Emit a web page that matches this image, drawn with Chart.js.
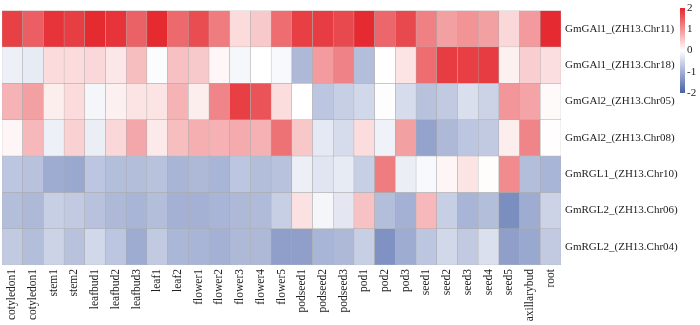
<!DOCTYPE html>
<html>
<head>
<meta charset="utf-8">
<script src="https://cdn.jsdelivr.net/npm/chart.js@4/dist/chart.umd.min.js"></script>
<style>
  html, body { margin: 0; padding: 0; background: #ffffff; }
  #wrap { width: 700px; height: 325px; }
</style>
</head>
<body>
<div id="wrap"><canvas id="c" width="700" height="325"></canvas></div>
<script>
const columns = ["cotyledon1","cotyledon1","stem1","stem2","leafbud1","leafbud2","leafbud3","leaf1","leaf2","flower1","flower2","flower3","flower4","flower5","podseed1","podseed2","podseed3","pod1","pod2","pod3","seed1","seed2","seed3","seed4","seed5","axillarybud","root"];

const rowNames = ["GmGAl1_(ZH13.Chr11)","GmGAl1_(ZH13.Chr18)","GmGAl2_(ZH13.Chr05)","GmGAl2_(ZH13.Chr08)","GmRGL1_(ZH13.Chr10)","GmRGL2_(ZH13.Chr06)","GmRGL2_(ZH13.Chr04)"];

const gai1Chr11 = [1.75,1.48,1.87,1.78,1.96,1.87,1.45,1.96,1.38,1.65,1.2,0.33,0.5,1.35,1.77,1.8,1.68,1.95,1.4,1.68,1.16,0.88,1.0,0.88,0.37,0.93,1.95];
const gai1Chr18 = [-0.19,-0.26,0.33,0.33,0.36,0.22,0.6,-0.04,0.58,0.5,0.08,-0.1,0.0,-0.08,-0.89,0.92,1.15,-0.83,0.0,0.25,1.35,1.8,1.77,1.8,0.14,0.45,0.3];
const gai2Chr05 = [0.7,0.88,0.16,0.33,-0.11,0.14,0.25,0.25,0.7,0.16,1.12,1.77,1.58,0.31,0.0,-0.72,-0.61,-0.5,-0.02,-0.44,-0.78,-0.67,-0.41,-0.56,0.97,0.84,0.05];
const gai2Chr08 = [0.09,0.65,-0.19,0.42,-0.22,0.37,0.81,0.19,0.6,0.74,0.72,0.77,0.72,1.3,0.51,-0.28,-0.44,0.31,-0.17,0.88,-1.17,-0.89,-0.72,-0.67,0.16,1.12,0.02];
const rgl1Chr10 = [-0.72,-0.78,-1.06,-1.11,-0.72,-0.83,-0.83,-0.78,-0.94,-0.89,-0.94,-0.72,-0.83,-0.78,-0.2,-0.33,-0.26,-0.61,1.21,-0.22,-0.08,0.09,0.25,0.03,1.07,-0.83,-0.94];
const rgl2Chr06 = [-0.83,-0.89,-0.61,-0.67,-0.78,-0.89,-0.94,-0.83,-1.0,-1.0,-0.94,-0.89,-0.86,-0.61,0.28,-0.11,-0.3,0.56,-0.83,-1.0,0.65,-0.61,-0.94,-0.83,-1.44,-1.06,-0.56];
const rgl2Chr04 = [-0.67,-0.83,-0.56,-0.78,-0.5,-0.72,-1.06,-0.67,-0.92,-0.94,-1.0,-0.89,-0.89,-1.22,-1.22,-0.94,-0.89,-0.61,-1.39,-1.06,-0.72,-0.5,-0.67,-0.39,-1.22,-1.11,-0.67];

const rowValues = [gai1Chr11, gai1Chr18, gai2Chr05, gai2Chr08, rgl1Chr10, rgl2Chr06, rgl2Chr04];
const colorbarTicks = [2, 1, 0, -1, -2];

const RED = [228, 38, 44];
const BLUE = [72, 98, 168];
const VMAX = 2;

function colorFor(v) {
  const t = Math.min(1, Math.abs(v) / VMAX);
  const end = v >= 0 ? RED : BLUE;
  const c = end.map(e => Math.round(255 + (e - 255) * t));
  return `rgb(${c[0]},${c[1]},${c[2]})`;
}

const datasets = rowNames.map((name, i) => ({
  label: name,
  data: rowValues[i].map(() => 1),
  backgroundColor: rowValues[i].map(colorFor),
  borderColor: 'rgb(170,170,170)',
  borderWidth: 0.5,
  borderSkipped: false,
  barPercentage: 1,
  categoryPercentage: 1
}));

const colorbarPlugin = {
  id: 'colorbar',
  afterDraw(chart) {
    const ctx = chart.ctx;
    const x = chart.width - 20, y0 = 8, h = 85, w = 5;
    const g = ctx.createLinearGradient(0, y0, 0, y0 + h);
    g.addColorStop(0, colorFor(2));
    g.addColorStop(0.5, colorFor(0));
    g.addColorStop(1, colorFor(-2));
    ctx.save();
    ctx.fillStyle = g;
    ctx.fillRect(x, y0, w, h);
    ctx.fillStyle = '#222';
    ctx.font = '11px "Liberation Serif", serif';
    ctx.textAlign = 'left';
    ctx.textBaseline = 'middle';
    colorbarTicks.forEach(t => {
      const ty = y0 + (VMAX - t) / (2 * VMAX) * h;
      ctx.fillText(String(t), x + 7, ty);
    });
    ctx.restore();
  }
};

new Chart(document.getElementById('c'), {
  type: 'bar',
  data: { labels: columns, datasets },
  plugins: [colorbarPlugin],
  options: {
    responsive: false,
    animation: false,
    devicePixelRatio: 1,
    layout: { padding: { left: 2, top: 3, right: 0, bottom: 0 } },
    plugins: { legend: { display: false }, tooltip: { enabled: false } },
    scales: {
      x: {
        stacked: true,
        grid: { display: false, drawTicks: false },
        border: { display: false },
        afterFit(scale) { scale.height = 60; },
        ticks: {
          autoSkip: false,
          maxRotation: 90,
          minRotation: 90,
          padding: 4,
          color: '#222',
          font: { family: '"Liberation Serif", serif', size: 11.5 }
        }
      },
      y: {
        stacked: true,
        min: 0,
        max: rowNames.length,
        reverse: true,
        position: 'right',
        grid: { display: false, drawTicks: false },
        border: { display: false },
        afterBuildTicks(scale) {
          scale.ticks = rowNames.map((_, i) => ({ value: i + 0.5 }));
        },
        afterFit(scale) { scale.width = 139; },
        ticks: {
          padding: 4,
          color: '#222',
          font: { family: '"Liberation Serif", serif', size: 11 },
          callback: (v) => rowNames[Math.floor(v)]
        }
      }
    }
  }
});
</script>
</body>
</html>
